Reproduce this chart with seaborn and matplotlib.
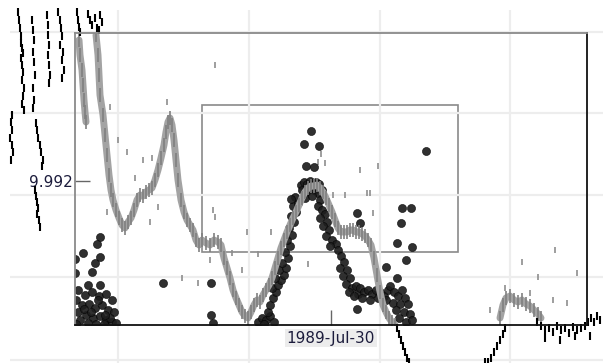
import numpy as np
import pandas as pd
import matplotlib
matplotlib.use("Agg")
import matplotlib.pyplot as plt
import matplotlib.dates as mdates
from matplotlib.patches import Rectangle
import seaborn as sns

# ---------------- data ----------------
REF_DATE = "1989-07-30"          # the single x tick label
Y_TICK = 9.992                   # the single y tick label
X_SPAN_DAYS = 256                # half width of the plotted date range
Y_RANGE = (9.9776, 10.0068)

# gray trace: day offsets from REF_DATE and values
main_days = [-235, -233, -232, -231, -228, -226, -224, -222, -220, -218, -215, -212, -209, -206,
             -203, -200, -197, -194, -191, -188, -185, -182, -179, -176, -173, -170, -167, -165,
             -163, -161, -159, -157, -155, -153, -150, -147, -144, -141, -138, -135, -132, -129,
             -125, -121, -117, -113, -110, -107, -104, -101, -98, -95, -92, -89, -86, -83, -80,
             -77, -74, -71, -68, -65, -62, -59, -56, -53, -50, -47, -44, -41, -38, -35, -32, -29,
             -26, -23, -20, -17, -14, -11, -8, -5, -2, 1, 4, 7, 10, 13, 16, 19, 22, 25, 28, 31,
             34, 37, 40, 43, 46, 49, 52, 55, 58, 61, 64]
main_vals = [10.0066, 10.0046, 10.0026, 10.0006, 9.9986, 9.9966, 9.9946, 9.9926, 9.9911, 9.9901,
             9.9891, 9.9883, 9.9876, 9.9873, 9.9879, 9.9883, 9.9891, 9.9901, 9.9906, 9.9905,
             9.9909, 9.9911, 9.9913, 9.9921, 9.9931, 9.9943, 9.9956, 9.9969, 9.9979, 9.9983,
             9.9976, 9.9961, 9.9941, 9.9921, 9.9901, 9.9889, 9.9881, 9.9876, 9.9871, 9.9861,
             9.9856, 9.9861, 9.9858, 9.9856, 9.9861, 9.9859, 9.9856, 9.9843, 9.9833, 9.9823,
             9.9811, 9.9803, 9.9796, 9.9789, 9.9785, 9.9783, 9.9789, 9.9796, 9.9801, 9.9799,
             9.9806, 9.9811, 9.9816, 9.9823, 9.9833, 9.9843, 9.9853, 9.9861, 9.9869, 9.9876,
             9.9883, 9.9889, 9.9896, 9.9903, 9.9909, 9.9913, 9.9915, 9.9915, 9.9916, 9.9913,
             9.9909, 9.9903, 9.9896, 9.9889, 9.9881, 9.9873, 9.9869, 9.9869, 9.9869, 9.9871,
             9.9871, 9.9869, 9.9869, 9.9867, 9.9865, 9.9861, 9.9856, 9.9843, 9.9826, 9.9809,
             9.9796, 9.9789, 9.9783, 9.9779, 9.9776]
left_days = [-252, -251, -249, -248, -247, -246, -245]
left_vals = [10.0061, 10.0046, 10.0031, 10.0016, 10.0001, 9.9989, 9.9979]
bump_days = [169, 172, 175, 179, 183, 187, 191, 195, 199, 203, 207, 210]
bump_vals = [9.9783, 9.9796, 9.9803, 9.9805, 9.9801, 9.9799, 9.9801, 9.9797, 9.9795, 9.9791,
             9.9787, 9.9783]

# scattered gray dashes
speck_days = [-221, -213, -204, -188, -179, -196, -164, -154, -173, -181, -149, -133, -118, -116,
              -121, -84, -89, -224, -60, -23, 2, 14, 36, 39, 42, 29, -10, -13, -6, 47, -73, -99,
              224, 191, 207, 246, 174, 199, 222, 236, 159, -116]
speck_vals = [9.9994, 9.9961, 9.9949, 9.9941, 9.9943, 9.9923, 9.9999, 9.9941, 9.9894, 9.9879,
              9.9823, 9.9818, 9.9891, 9.9884, 9.9841, 9.9869, 9.9831, 9.9889, 9.9869, 9.9837,
              9.9906, 9.9906, 9.9908, 9.9908, 9.9888, 9.9931, 9.9947, 9.9939, 9.9938, 9.9935,
              9.9847, 9.9848, 9.9851, 9.9839, 9.9824, 9.9828, 9.9813, 9.9808, 9.9801, 9.9798,
              9.9791, 10.0036]

# black circles
dot_days = [-231, -234, -248, -256, -236, -231, -239, -256, -243, -231, -253, -246, -239, -232,
            -225, -219, -255, -249, -242, -236, -229, -223, -217, -253, -245, -238, -231, -225,
            -219, -251, -243, -235, -227, -221, -215, -255, -247, -233, -226, -240,
            -168, -120, -120, -118,
            -73, -69, -65, -61, -57, -67, -63,
            -61, -58, -55, -59, -53, -50, -56, -47, -52, -45, -49, -43, -46, -41, -44, -39, -42,
            -37, -40, -35, -38, -33, -36, -40,
            -30, -27, -24, -21, -18, -15, -12, -29, -25, -21, -17, -13, -9, -26, -19, -11,
            -20, -27, -12, -25, -17,
            -13, -9, -6, -11, -4, -8, -2, -5, 1, 5, -1, 7, 10, 13, 9, 16, 12, 19, 15, 21, 25, 18,
            27, 23, 29, 33, 37, 41, 45, 49, 53, 57, 31, 39, 47, 55, 59, 63, 67, 71, 74, 62, 69,
            77, 65, 73, 79, 68, 75, 81,
            26, 29, 71, 80, 70, 66, 81, 75, 55, 66, 26, 95]
dot_vals = [9.9864, 9.9857, 9.9848, 9.9842, 9.9838, 9.9844, 9.9829, 9.9828, 9.9816, 9.9816,
            9.9811, 9.9806, 9.9809, 9.9805, 9.9807, 9.9801, 9.9801, 9.9796, 9.9797, 9.9793,
            9.9796, 9.9791, 9.9789, 9.9789, 9.9786, 9.9783, 9.9785, 9.9781, 9.9779, 9.9781,
            9.9778, 9.9777, 9.9777, 9.9783, 9.9778, 9.9777, 9.9792, 9.9801, 9.9786, 9.9789,
            9.9818, 9.9818, 9.9786, 9.9778,
            9.9779, 9.9783, 9.9781, 9.9785, 9.9779, 9.9777, 9.9789,
            9.9796, 9.9803, 9.9809, 9.9813, 9.9816, 9.9821, 9.9823, 9.9826, 9.9831, 9.9833,
            9.9838, 9.9843, 9.9849, 9.9855, 9.9861, 9.9866, 9.9873, 9.9879, 9.9885, 9.9889,
            9.9895, 9.9898, 9.9904, 9.9902,
            9.9916, 9.9919, 9.9917, 9.9920, 9.9918, 9.9919, 9.9917, 9.9911, 9.9909, 9.9913,
            9.9911, 9.9908, 9.9911, 9.9903, 9.9905, 9.9901,
            9.9970, 9.9957, 9.9955, 9.9935, 9.9934,
            9.9895, 9.9891, 9.9887, 9.9883, 9.9879, 9.9875, 9.9871, 9.9865, 9.9861, 9.9857,
            9.9855, 9.9851, 9.9845, 9.9839, 9.9833, 9.9831, 9.9825, 9.9823, 9.9817, 9.9813,
            9.9815, 9.9809, 9.9807, 9.9805, 9.9813, 9.9809, 9.9811, 9.9807, 9.9811, 9.9809,
            9.9805, 9.9811, 9.9803, 9.9801, 9.9803, 9.9801, 9.9815, 9.9809, 9.9805, 9.9811,
            9.9803, 9.9798, 9.9797, 9.9797, 9.9791, 9.9789, 9.9787, 9.9783, 9.9779, 9.9781,
            9.9888, 9.9878, 9.9893, 9.9893, 9.9878, 9.9858, 9.9854, 9.9841, 9.9834, 9.9823,
            9.9792, 9.9950]

# black dashes (drawn beyond the frame)
dash_days = [-313, -312, -311, -310, -310, -309, -308, -310, -309, -308, -309, -307, -308, -309,
             -307,
             -319, -320, -319, -321, -319, -318, -320,
             -299, -298, -297, -298, -297, -296, -298, -297, -298,
             -295, -294, -293, -291, -290, -288, -289,
             -284, -283, -283, -282, -283, -282, -281, -282,
             -273, -271, -270, -269, -271, -268, -269, -267, -269,
             -296, -295, -294, -293, -294, -292, -291,
             -254, -253, -252, -251, -243, -241, -239, -236, -234, -231, -229, -232,
             66, 68, 70, 72, 74, 76, 78,
             174, 172, 169, 166, 163, 160, 157, 154,
             206, 210, 214, 218, 222, 226, 230, 234, 238, 242, 246, 250, 254, 257, 260, 263,
             266, 269, 214, 229, 244, 259]
dash_vals = [10.0089, 10.0081, 10.0073, 10.0065, 10.0058, 10.0053, 10.0048, 10.0043, 10.0036,
             10.0029, 10.0021, 10.0013, 10.0005, 9.9997, 9.9991,
             9.9986, 9.9979, 9.9971, 9.9963, 9.9956, 9.9949, 9.9941,
             10.0081, 10.0071, 10.0061, 10.0049, 10.0039, 10.0026, 10.0013, 10.0001, 9.9993,
             9.9978, 9.9971, 9.9963, 9.9956, 9.9949, 9.9941, 9.9935,
             10.0086, 10.0076, 10.0066, 10.0056, 10.0046, 10.0036, 10.0026, 10.0018,
             10.0089, 10.0081, 10.0073, 10.0065, 10.0056, 10.0049, 10.0041, 10.0031, 10.0023,
             9.9911, 9.9905, 9.9899, 9.9893, 9.9887, 9.9881, 9.9874,
             10.0089, 10.0081, 10.0074, 10.0069, 10.0087, 10.0081, 10.0076, 10.0083, 10.0073,
             10.0086, 10.0079, 10.0071,
             9.9773, 9.9767, 9.9761, 9.9755, 9.9749, 9.9743, 9.9739,
             9.9773, 9.9767, 9.9761, 9.9755, 9.9749, 9.9743, 9.9739, 9.9739,
             9.9779, 9.9775, 9.9771, 9.9773, 9.9769, 9.9775, 9.9771, 9.9773, 9.9768, 9.9774,
             9.9771, 9.9773, 9.9775, 9.9779, 9.9783, 9.9779, 9.9785, 9.9781, 9.9763, 9.9761,
             9.9765, 9.9765]

# ---------------- build frames ----------------
ref = pd.Timestamp(REF_DATE)


def to_dates(days):
    return ref + pd.to_timedelta(days, unit="D")


trace = pd.concat([
    pd.DataFrame({"date": to_dates(main_days), "value": main_vals, "seg": "main"}),
    pd.DataFrame({"date": to_dates(left_days), "value": left_vals, "seg": "left"}),
    pd.DataFrame({"date": to_dates(bump_days), "value": bump_vals, "seg": "bump"}),
], ignore_index=True)
specks = pd.DataFrame({"date": to_dates(speck_days), "value": speck_vals})
dots = pd.DataFrame({"date": to_dates(dot_days), "value": dot_vals})
dashes = pd.DataFrame({"date": to_dates(dash_days), "value": dash_vals})

# ---------------- figure ----------------
sns.set_style("white")
W, H = 603, 363
fig = plt.figure(figsize=(W / 100, H / 100), dpi=100)

# background layer (pixel coordinates): grid and inner box
bg = fig.add_axes([0, 0, 1, 1], zorder=0)
bg.set_xlim(0, W)
bg.set_ylim(H, 0)
bg.axis("off")
for gx in [118, 249, 380, 510]:
    bg.plot([gx, gx], [10, H], color="#ededed", lw=1.6, solid_capstyle="butt")
for gy in [32, 113, 195, 277, 360]:
    bg.plot([10, W], [gy, gy], color="#ededed", lw=1.6, solid_capstyle="butt")
bg.add_patch(Rectangle((202, 105), 256, 147, fill=False, ec="#8a8a8a", lw=1.2))

# main plot area (the outer frame)
ax = fig.add_axes([75 / W, (H - 325) / H, 512 / W, 292 / H], zorder=2)
ax.patch.set_alpha(0)

sns.lineplot(data=trace, x="date", y="value", units="seg", estimator=None, sort=False,
             color="#a3a3a3", lw=5.0, ax=ax, legend=False)
sns.lineplot(data=trace, x="date", y="value", units="seg", estimator=None, sort=False,
             color="#808080", lw=0, marker="|", markersize=10, markeredgewidth=1.2,
             markeredgecolor="#808080", ax=ax, legend=False)
sns.scatterplot(data=specks, x="date", y="value", marker="|", s=14, color="#8e8e8e",
                linewidth=1.2, ax=ax, legend=False)
sns.scatterplot(data=dots, x="date", y="value", s=34, color="#1e1e1e", edgecolor="#000000",
                linewidth=0.4, alpha=0.92, ax=ax, legend=False)
sns.lineplot(data=dashes, x="date", y="value", estimator=None, sort=False, lw=0,
             marker="|", markersize=6, markeredgewidth=1.5, color="#000000",
             markeredgecolor="#000000", ax=ax, legend=False, clip_on=False)

ax.set_xlim(ref - pd.Timedelta(days=X_SPAN_DAYS), ref + pd.Timedelta(days=X_SPAN_DAYS))
ax.set_ylim(*Y_RANGE)
ax.set_xlabel("")
ax.set_ylabel("")

ax.set_xticks([ref])
ax.xaxis.set_major_formatter(mdates.DateFormatter("%Y-%b-%d"))
ax.set_yticks([Y_TICK])
ax.set_yticklabels([f"{Y_TICK:.3f}"])
ax.tick_params(axis="both", direction="in", length=10.8, width=1.0, color="#666666",
               labelsize=11, labelcolor="#1c1c3c", left=True, bottom=True)
ax.tick_params(axis="y", pad=1.5)
ax.tick_params(axis="x", pad=4)
for lab in ax.get_xticklabels():
    lab.set_bbox(dict(facecolor="#ececec", edgecolor="none", pad=1.0))

for side, col in [("left", "#8a8a8a"), ("top", "#8a8a8a"), ("right", "#111111"),
                  ("bottom", "#111111")]:
    ax.spines[side].set_visible(True)
    ax.spines[side].set_color(col)
    ax.spines[side].set_linewidth(1.3)

fig.savefig("out.png", dpi=100)
